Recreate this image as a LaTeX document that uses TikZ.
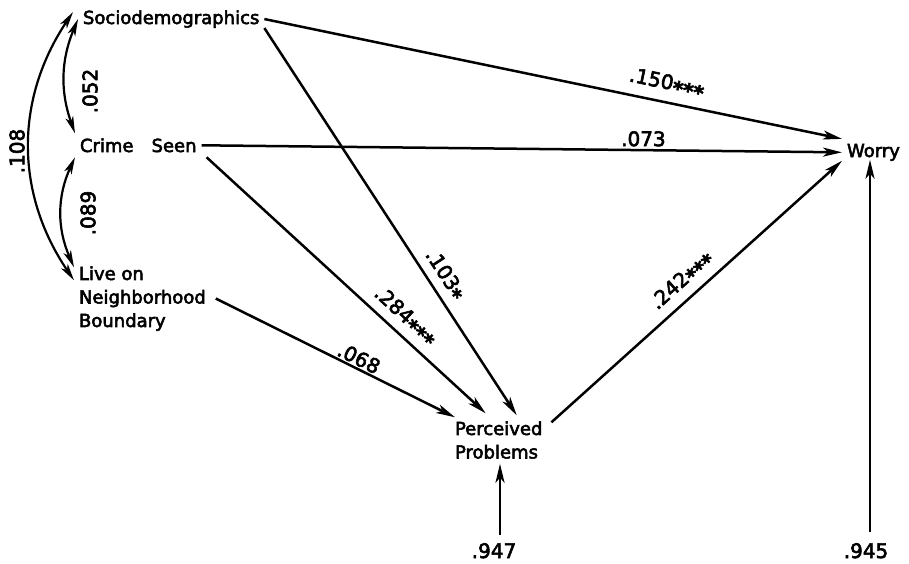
\documentclass[tikz,border=0pt]{standalone}
\usepackage{fontspec}
\setmainfont{DejaVu Sans}[FakeBold=3]
\newfontfamily\numfont{DejaVu Sans}[FakeBold=3]
\usetikzlibrary{arrows.meta,calc}
\newcommand{\stars}[1]{\raisebox{-0.22em}{\bfseries #1}}
\tikzset{
  var/.style={inner sep=5pt, outer sep=0pt, font=\fontsize{18}{23.5}\selectfont},
  coef/.style={inner sep=1.5pt, font=\numfont\fontsize{20}{22}\selectfont},
  link/.style={line width=2.5pt, -{Stealth[length=19pt,width=9pt,inset=5pt]}},
  corr/.style={line width=2.2pt, {Stealth[length=17pt,width=8pt,inset=4.5pt]}-{Stealth[length=17pt,width=8pt,inset=4.5pt]}},
}
\begin{document}
\begin{tikzpicture}[x=1pt,y=1pt]
\useasboundingbox (0,0) rectangle (909,-563);

% variables
\node[var, anchor=base west] (soc) at (78,-24) {Sociodemographics};
\node[var, anchor=base west] (crime) at (75,-152) {Crime\hspace{18pt}Seen};
\node[var, anchor=north west, align=left] (live) at (74,-261.3) {Live on\\Neighborhood\\Boundary};
\node[var, anchor=north west, align=left] (perc) at (450,-416.3) {Perceived\\Problems};
\node[var, anchor=base west] (wor) at (842,-157) {Worry};

% residual terms
\node[coef, anchor=base] (n947) at (494,-558) {.947};
\node[coef, anchor=base] (n945) at (866,-558) {.945};

% paths into Worry
\draw[link] (soc.east) -- node[coef, sloped, above=6pt, pos=0.69] (c150) {.150\stars{***}} (wor.north west);
\draw[link] (crime.east) -- node[coef, above=1pt, pos=0.69] (c073) {.073} (wor.west);
\draw[link] ($(perc.north east)+(4,-6)$) -- node[coef, sloped, above=5pt, pos=0.49] (c242) {.242\stars{***}} ($(wor.south west)+(0,5)$);

% paths into Perceived Problems
\draw[link] ($(soc.east)+(0,-9)$) -- node[coef, sloped, above=3.5pt, pos=0.66] (c103) {.103\stars{*}} ($(perc.north)+(18,1)$);
\draw[link] ($(crime.south east)+(5,0)$) -- node[coef, sloped, above=4pt, pos=0.67] (c284) {.284\stars{***}} ($(perc.north)+(-13,3)$);
\draw[link] ($(live.east)+(5,0)$) -- node[coef, sloped, above=0pt, pos=0.58] (c068) {.068} ($(perc.north west)+(5,-1)$);

% residual arrows
\path (n947.north) ++(6,6) coordinate (t947);
\draw[link] (t947) -- (t947 |- perc.south);
\path (n945.north) ++(4,9) coordinate (t945);
\coordinate (w945) at ($(wor.south)+(0,6)$);
\draw[link] (t945) -- (t945 |- w945);

% correlations among exogenous variables
\draw[corr] (soc.west) to[bend right=21] (crime.north west);
\draw[corr] (crime.south west) to[bend right=24] ($(live.north west)+(0,-6)$);
\draw[corr] ($(soc.west)+(-5,7)$) to[bend right=34] ($(live.north west)+(0,-19)$);
\node[coef, rotate=90] (c052) at (90,-91) {.052};
\node[coef, rotate=90] (c089) at (88,-213) {.089};
\node[coef, rotate=90] (c108) at (17,-151) {.108};
\end{tikzpicture}
\end{document}
